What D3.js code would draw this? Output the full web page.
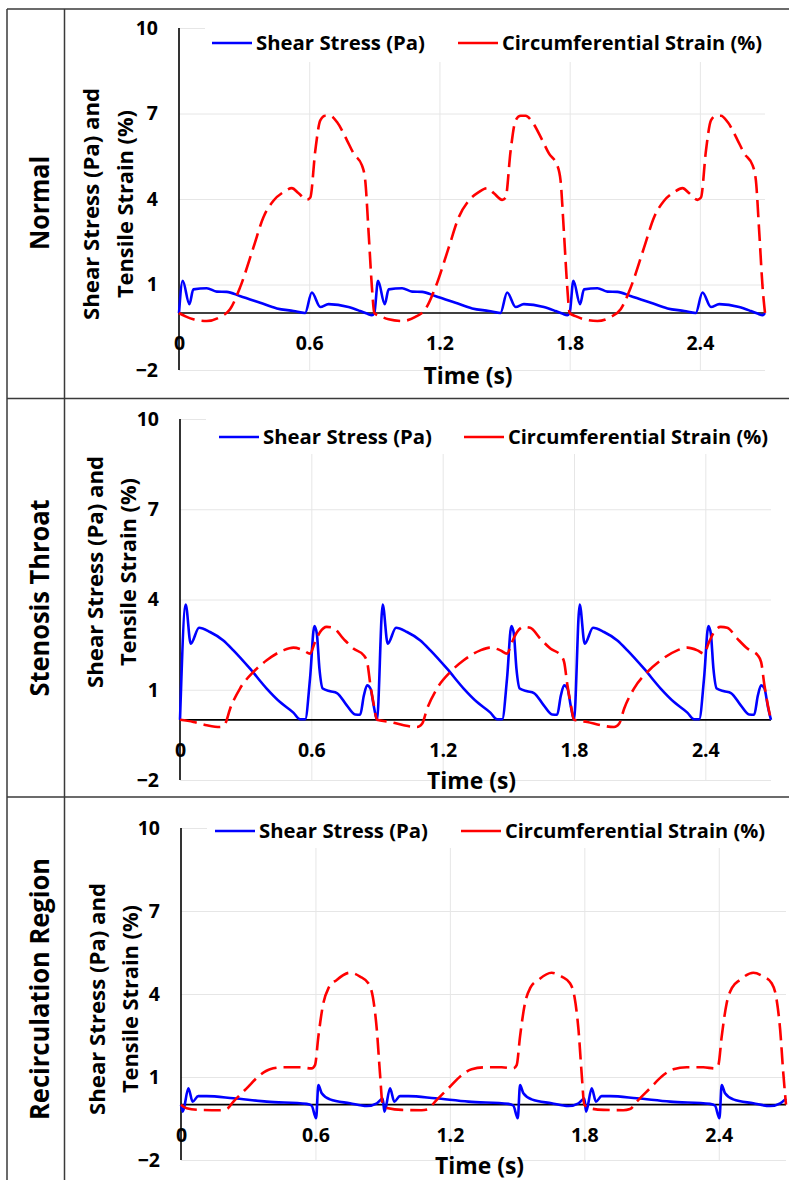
<!DOCTYPE html>
<html>
<head>
<meta charset="utf-8">
<title>Shear stress and strain</title>
<script src="https://cdn.jsdelivr.net/npm/d3@7"></script>
<style>
  body { margin: 0; background: #fff; }
  svg { display: block; }
  text { font-family: "Open Sans", "Noto Sans", sans-serif; font-weight: bold; fill: #000; }
</style>
</head>
<body>
<div id="chart"></div>
<script>
// ---- data ----
var panelNames = ["Normal", "Stenosis Throat", "Recirculation Region"];
var seriesNames = ["Shear Stress (Pa)", "Circumferential Strain (%)"];
var xTicks = [0, 0.6, 1.2, 1.8, 2.4];
var yTicks = [-2, 1, 4, 7, 10];
var xLabel = "Time (s)";
var yLabel = ["Shear Stress (Pa) and", "Tensile Strain (%)"];
var period = 0.9, nCycles = 3;

// one cardiac cycle [t, value], repeated three times in the plot
var normalShear = [[0,0],[0.017,1.13],[0.048,0.31],[0.066,0.83],[0.128,0.87],[0.174,0.75],[0.22,0.74],
  [0.28,0.60],[0.374,0.36],[0.451,0.16],[0.528,0.07],[0.581,0.0],[0.612,0.72],[0.651,0.21],[0.689,0.31],
  [0.781,0.21],[0.835,0.07],[0.866,-0.02],[0.889,-0.08],[0.9,0]];
var normalStrain = [[0,0],[0.03,-0.12],[0.066,-0.22],[0.128,-0.28],[0.189,-0.14],[0.235,0.13],[0.281,0.89],
  [0.343,2.30],[0.389,3.36],[0.435,3.94],[0.481,4.24],[0.52,4.38],[0.551,4.20],[0.589,3.97],[0.605,4.05],
  [0.628,5.70],[0.651,6.76],[0.674,6.92],[0.697,6.92],[0.728,6.70],[0.774,6.06],[0.805,5.59],[0.843,5.18],
  [0.858,4.65],[0.874,2.77],[0.889,0.89],[0.9,0]];
var stenosisShear = [[0,0],[0.026,3.83],[0.049,2.53],[0.087,3.06],[0.137,2.92],[0.198,2.64],[0.244,2.31],
  [0.32,1.70],[0.396,1.04],[0.457,0.59],[0.518,0.24],[0.549,0.02],[0.572,0.02],[0.594,1.37],[0.614,3.12],
  [0.625,2.87],[0.637,1.70],[0.652,1.04],[0.686,0.95],[0.717,0.89],[0.762,0.48],[0.8,0.18],[0.823,0.17],
  [0.84,0.81],[0.855,1.15],[0.87,1.04],[0.886,0.43],[0.9,0]];
var stenosisStrain = [[0,0],[0.061,-0.07],[0.122,-0.18],[0.183,-0.24],[0.206,-0.13],[0.229,0.37],[0.274,1.04],
  [0.335,1.59],[0.396,1.98],[0.472,2.31],[0.518,2.40],[0.564,2.31],[0.594,2.20],[0.617,2.59],[0.64,2.92],
  [0.67,3.09],[0.70,3.06],[0.746,2.70],[0.792,2.37],[0.84,2.14],[0.855,1.92],[0.87,1.15],[0.886,0.48],[0.9,0]];
var recircShear = [[0,0],[0.008,-0.25],[0.033,0.59],[0.052,0.11],[0.077,0.31],[0.115,0.31],[0.234,0.23],
  [0.383,0.11],[0.561,0.03],[0.583,-0.03],[0.603,-0.49],[0.613,0.71],[0.628,0.41],[0.665,0.19],[0.754,0.05],
  [0.829,-0.05],[0.874,0.05],[0.9,0.22]];
var recircStrain = [[0,0],[0.025,-0.13],[0.085,-0.19],[0.174,-0.2],[0.204,-0.16],[0.234,0.11],[0.293,0.59],
  [0.353,1.07],[0.397,1.28],[0.457,1.35],[0.531,1.35],[0.583,1.31],[0.598,1.43],[0.613,2.46],[0.635,3.66],
  [0.658,4.21],[0.695,4.51],[0.754,4.77],[0.799,4.63],[0.836,4.39],[0.856,3.90],[0.874,2.70],[0.888,1.13],[0.9,0]];

var shearData = [normalShear, stenosisShear, recircShear];
var strainData = [normalStrain, stenosisStrain, recircStrain];

// ---- layout of each panel (pixels) ----
var panels = [
  {x0: 179, x1: 765, yTop: 28, yBot: 370, legY: 43, legBlue: 212, legRed: 458, legBottom: 62,
   tickY: 343, titleY: 376, yt1: 91, yt2: 125, ytY: 204, rowY: 203, rowW: 94},
  {x0: 180, x1: 771, yTop: 419, yBot: 780, legY: 437, legBlue: 219, legRed: 464, legBottom: 454,
   tickY: 750, titleY: 781, yt1: 95, yt2: 128, ytY: 572, rowY: 598, rowW: 197},
  {x0: 181, x1: 786, yTop: 828, yBot: 1160, legY: 831, legBlue: 215, legRed: 461, legBottom: 848,
   tickY: 1135, titleY: 1166, yt1: 97, yt2: 130, ytY: 999, rowY: 989, rowW: 262}
];

var width = 789, height = 1180;

var svg = d3.select("#chart").append("svg")
    .attr("width", width)
    .attr("height", height);

svg.append("rect").attr("width", width).attr("height", height).attr("fill", "#fff");

// repeat a cycle nCycles times along the time axis
function repeatCycle(cycle) {
    var out = [];
    for (var k = 0; k < nCycles; k++) {
        cycle.forEach(function(d, i) {
            if (k > 0 && i === 0) return;
            out.push([d[0] + k * period, d[1]]);
        });
    }
    return out;
}

function fit(sel, w) {
    return sel.attr("textLength", w).attr("lengthAdjust", "spacingAndGlyphs");
}

panels.forEach(function(p, idx) {
    var x = d3.scaleLinear().domain([0, 2.7]).range([p.x0, p.x1]);
    var y = d3.scaleLinear().domain([-2, 10]).range([p.yBot, p.yTop]);
    var g = svg.append("g");

    // gridlines
    g.append("g")
        .attr("transform", "translate(" + p.x0 + ",0)")
        .call(d3.axisLeft(y).tickValues(yTicks).tickSize(-(p.x1 - p.x0)).tickFormat(""))
        .call(function(a) {
            a.select(".domain").remove();
            a.selectAll("line").attr("stroke", "#e6e6e6").attr("stroke-width", 1);
        });
    g.append("g")
        .attr("transform", "translate(0," + p.yBot + ")")
        .call(d3.axisBottom(x).tickValues(xTicks.slice(1)).tickSize(-(p.yBot - p.yTop)).tickFormat(""))
        .call(function(a) {
            a.select(".domain").remove();
            a.selectAll("line").attr("stroke", "#e6e6e6").attr("stroke-width", 1);
        });

    // legend box covers the top of the plot area
    g.append("rect")
        .attr("x", p.x0 + 26).attr("y", p.yTop - 12)
        .attr("width", width - p.x0 - 26).attr("height", p.legBottom - p.yTop + 12)
        .attr("fill", "#fff");

    // axis lines
    g.append("line")
        .attr("x1", p.x0).attr("x2", p.x0)
        .attr("y1", p.yTop).attr("y2", p.yBot)
        .attr("stroke", "#000").attr("stroke-width", 1.6);
    g.append("line")
        .attr("x1", p.x0).attr("x2", p.x1)
        .attr("y1", y(0)).attr("y2", y(0))
        .attr("stroke", "#000").attr("stroke-width", 1.6);

    // tick labels
    g.append("g")
        .attr("transform", "translate(" + (p.x0 - 21) + ",0)")
        .call(d3.axisLeft(y).tickValues(yTicks).tickSize(0).tickPadding(0).tickFormat(d3.format("d")))
        .call(function(a) {
            a.select(".domain").remove();
            a.selectAll("text").attr("font-size", 19.5).attr("font-family", null).attr("fill", "#000");
        });
    g.append("g")
        .attr("transform", "translate(0," + p.tickY + ")")
        .call(d3.axisBottom(x).tickValues(xTicks).tickSize(0).tickPadding(0)
            .tickFormat(function(d) { return d === 0 ? "0" : d3.format(".1f")(d); }))
        .call(function(a) {
            a.select(".domain").remove();
            a.selectAll("text").attr("font-size", 19.5).attr("font-family", null)
                .attr("fill", "#000").attr("dy", "0.35em");
        });

    // axis titles
    fit(g.append("text")
        .attr("x", (p.x0 + p.x1) / 2 - 4).attr("y", p.titleY).attr("dy", "0.35em")
        .attr("text-anchor", "middle").attr("font-size", 23.5)
        .text(xLabel), 89);
    [p.yt1, p.yt2].forEach(function(cx, i) {
        fit(g.append("text")
            .attr("transform", "translate(" + cx + "," + p.ytY + ") rotate(-90)")
            .attr("dy", "0.35em").attr("text-anchor", "middle").attr("font-size", 22)
            .text(yLabel[i]), i === 0 ? 232 : 188);
    });

    // row label
    fit(svg.append("text")
        .attr("transform", "translate(40," + p.rowY + ") rotate(-90)")
        .attr("dy", "0.35em").attr("text-anchor", "middle").attr("font-size", 27)
        .text(panelNames[idx]), p.rowW);

    // series
    var line = d3.line()
        .x(function(d) { return x(d[0]); })
        .y(function(d) { return y(d[1]); })
        .curve(d3.curveMonotoneX);

    g.append("path")
        .datum(repeatCycle(shearData[idx]))
        .attr("d", line)
        .attr("fill", "none").attr("stroke", "#0000ff").attr("stroke-width", 2.6)
        .attr("stroke-linejoin", "round");
    g.append("path")
        .datum(repeatCycle(strainData[idx]))
        .attr("d", line)
        .attr("fill", "none").attr("stroke", "#ff0000").attr("stroke-width", 2.6)
        .attr("stroke-dasharray", "17,7");

    // legend
    g.append("line")
        .attr("x1", p.legBlue).attr("x2", p.legBlue + 40)
        .attr("y1", p.legY).attr("y2", p.legY)
        .attr("stroke", "#0000ff").attr("stroke-width", 2.6);
    fit(g.append("text")
        .attr("x", p.legBlue + 44).attr("y", p.legY).attr("dy", "0.35em")
        .attr("font-size", 20).text(seriesNames[0]), 169);
    g.append("line")
        .attr("x1", p.legRed).attr("x2", p.legRed + 40)
        .attr("y1", p.legY).attr("y2", p.legY)
        .attr("stroke", "#ff0000").attr("stroke-width", 2.6);
    fit(g.append("text")
        .attr("x", p.legRed + 44).attr("y", p.legY).attr("dy", "0.35em")
        .attr("font-size", 20).text(seriesNames[1]), 260);
});

// table borders
var border = "#3a3a3a";
[9, 398.5, 797].forEach(function(yy) {
    svg.append("line").attr("x1", 7).attr("x2", width).attr("y1", yy).attr("y2", yy)
        .attr("stroke", border).attr("stroke-width", 1.5);
});
[7, 64.5].forEach(function(xx) {
    svg.append("line").attr("x1", xx).attr("x2", xx).attr("y1", 9).attr("y2", height)
        .attr("stroke", border).attr("stroke-width", 1.5);
});
</script>
</body>
</html>
